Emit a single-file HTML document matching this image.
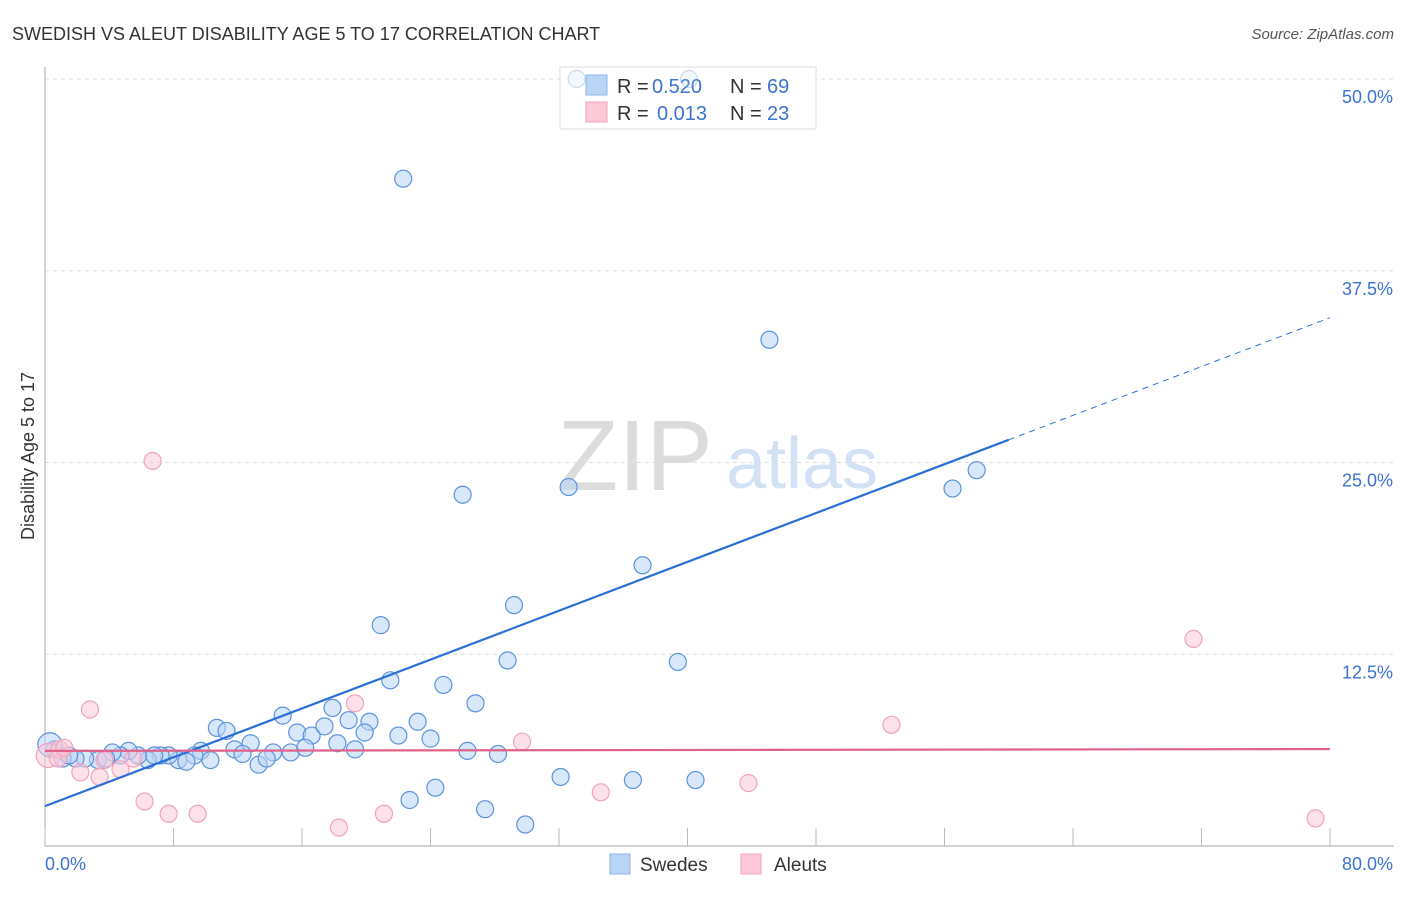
<!DOCTYPE html>
<html><head><meta charset="utf-8"><style>
body{margin:0;background:#fff;font-family:"Liberation Sans",sans-serif;}
svg text{font-family:"Liberation Sans",sans-serif;}
</style></head><body>
<svg id="chart" width="1406" height="892">
<text x="12" y="40" font-size="18" fill="#333">SWEDISH VS ALEUT DISABILITY AGE 5 TO 17 CORRELATION CHART</text>
<text x="1394" y="39" font-size="15" fill="#555" font-style="italic" text-anchor="end">Source: ZipAtlas.com</text>
<g>
<text x="635" y="490" font-size="100" fill="#dcdcdc" font-family="Liberation Serif" text-anchor="middle">ZIP</text>
<text x="802" y="488" font-size="72" fill="#d3e1f5" text-anchor="middle">atlas</text>
</g>
<g id="grid"></g><g id="axes"></g>
<g>
<rect x="560" y="67" width="256" height="62" fill="#fff" fill-opacity="0.85" stroke="#ddd"/>
<rect x="586" y="75" width="21" height="20" fill="#b9d4f5" stroke="#8fb6e6"/>
<rect x="586" y="102" width="21" height="20" fill="#fcc9d8" stroke="#f0a3bb"/>
<text x="617" y="93" font-size="20" fill="#333">R =</text>
<text x="652" y="93" font-size="20" fill="#3b73d1">0.520</text>
<text x="730" y="93" font-size="20" fill="#333">N =</text>
<text x="767" y="93" font-size="20" fill="#3b73d1">69</text>
<text x="617" y="120" font-size="20" fill="#333">R =</text>
<text x="657" y="120" font-size="20" fill="#3b73d1">0.013</text>
<text x="730" y="120" font-size="20" fill="#333">N =</text>
<text x="767" y="120" font-size="20" fill="#3b73d1">23</text>
</g>
<g id="marks"></g>
<text transform="translate(34,456) rotate(-90)" font-size="18" fill="#333" text-anchor="middle">Disability Age 5 to 17</text>
<text x="45" y="870" font-size="18" fill="#3b73d1">0.0%</text>
<text x="1393" y="870" font-size="18" fill="#3b73d1" text-anchor="end">80.0%</text>
<g>
<rect x="610" y="854" width="20" height="20" fill="#b9d4f5" stroke="#8fb6e6"/>
<text x="640" y="871" font-size="19" fill="#333">Swedes</text>
<rect x="741" y="854" width="20" height="20" fill="#fcc9d8" stroke="#f0a3bb"/>
<text x="774" y="871" font-size="19" fill="#333">Aleuts</text>
</g>
</svg>
<script>
const yTicks=[12.5,25.0,37.5,50.0];
const yTickLabels=["12.5%","25.0%","37.5%","50.0%"];
const xTicks=[0,8,16,24,32,40,48,56,64,72,80];
const swedesX=[33.1,40.1,22.3,45.1,26.0,32.6,56.5,58.0,37.2,29.2,20.9,28.8,39.4,21.5,24.8,26.8,14.8,17.9,10.7,11.3,15.7,16.6,17.4,18.9,20.2,19.9,23.2,22.0,24.0,12.8,18.2,19.3,26.3,28.2,14.2,15.3,16.2,11.8,12.3,9.7,9.3,10.3,8.3,8.8,7.7,7.2,6.4,5.8,5.2,4.7,4.2,3.3,2.5,1.9,1.1,0.6,0.3,13.3,13.8,32.1,36.6,40.5,24.3,22.7,27.4,29.9,6.8,3.8,1.5];
const swedesY=[50.0,50.0,43.5,33.0,22.9,23.4,23.3,24.5,18.3,15.7,14.4,12.1,12.0,10.8,10.5,9.3,8.5,9.0,7.7,7.5,7.4,7.2,7.8,8.2,8.1,7.4,8.1,7.2,7.0,6.7,6.7,6.3,6.2,6.0,6.1,6.1,6.4,6.3,6.0,6.2,5.9,5.6,5.6,5.5,5.9,5.9,5.6,5.9,6.2,5.9,6.1,5.6,5.7,5.7,5.7,6.3,6.6,5.3,5.7,4.5,4.3,4.3,3.8,3.0,2.4,1.4,5.9,5.7,5.9];
const aleutsX=[6.7,2.8,19.3,29.7,52.7,71.5,0.2,0.9,2.2,3.4,4.7,5.5,6.2,7.7,9.5,18.3,21.1,34.6,43.8,79.1,0.8,3.7,1.2];
const aleutsY=[25.1,8.9,9.3,6.8,7.9,13.5,5.9,6.3,4.8,4.5,5.0,5.7,2.9,2.1,2.1,1.2,2.1,3.5,4.1,1.8,5.7,5.6,6.4];
const swedesFit=[2.6,0.398];
const aleutsFit=[6.2,0.0015];
const NS="http://www.w3.org/2000/svg";
const X0=45,X1=1330,Y0=846,Y50=79;
function sx(v){return X0+(X1-X0)*v/80;}
function sy(v){return Y0-(Y0-Y50)*v/50;}
function mk(t,a,p){const e=document.createElementNS(NS,t);for(const k in a)e.setAttribute(k,a[k]);p.appendChild(e);return e;}
const grid=document.getElementById('grid'),axes=document.getElementById('axes'),marks=document.getElementById('marks');
yTicks.forEach((t,i)=>{
 const l=mk('line',{x1:X0,x2:1394,y1:sy(t),y2:sy(t),stroke:'#ddd','stroke-dasharray':'4,4'},grid);
 
 
 const tx=mk('text',{x:1393,y:sy(t)+24,'font-size':18,fill:'#3b73d1','text-anchor':'end'},axes);
 tx.textContent=yTickLabels[i];
 
 
});
const xa=mk('line',{x1:X0,x2:1394,y1:Y0,y2:Y0,stroke:'#aaa'},axes);


const ya=mk('line',{x1:X0,x2:X0,y1:67,y2:Y0,stroke:'#aaa'},axes);


xTicks.forEach(t=>{
 const l=mk('line',{x1:sx(t),x2:sx(t),y1:828,y2:Y0,stroke:'#bbb'},axes);
 
 
});
function pts(xs,ys,fill,stroke,name,op){
 xs.forEach((x,i)=>{
  const c=mk('circle',{cx:sx(x),cy:sy(ys[i]),r:(x<0.5?12:8.5),fill:fill,'fill-opacity':0.55,stroke:stroke,'stroke-width':1.2,opacity:(ys[i]>=49?0.35:1)},marks);
  
  
 });
}
pts(swedesX,swedesY,'#b9d4f5','#5d93dd','swedes-point');
pts(aleutsX,aleutsY,'#fcc9d8','#f0a3bb','aleuts-point');
let l=mk('line',{x1:sx(0),y1:sy(swedesFit[0]),x2:sx(60),y2:sy(swedesFit[0]+swedesFit[1]*60),stroke:'#2a6fd6','stroke-width':2.2},marks);


l=mk('line',{x1:sx(60),y1:sy(swedesFit[0]+swedesFit[1]*60),x2:sx(80),y2:sy(swedesFit[0]+swedesFit[1]*80),stroke:'#2a6fd6','stroke-width':1,'stroke-dasharray':'6,5'},marks);


l=mk('line',{x1:sx(0),y1:sy(aleutsFit[0]),x2:sx(80),y2:sy(aleutsFit[0]+aleutsFit[1]*80),stroke:'#e0618a','stroke-width':2.2},marks);


</script>
</body></html>
